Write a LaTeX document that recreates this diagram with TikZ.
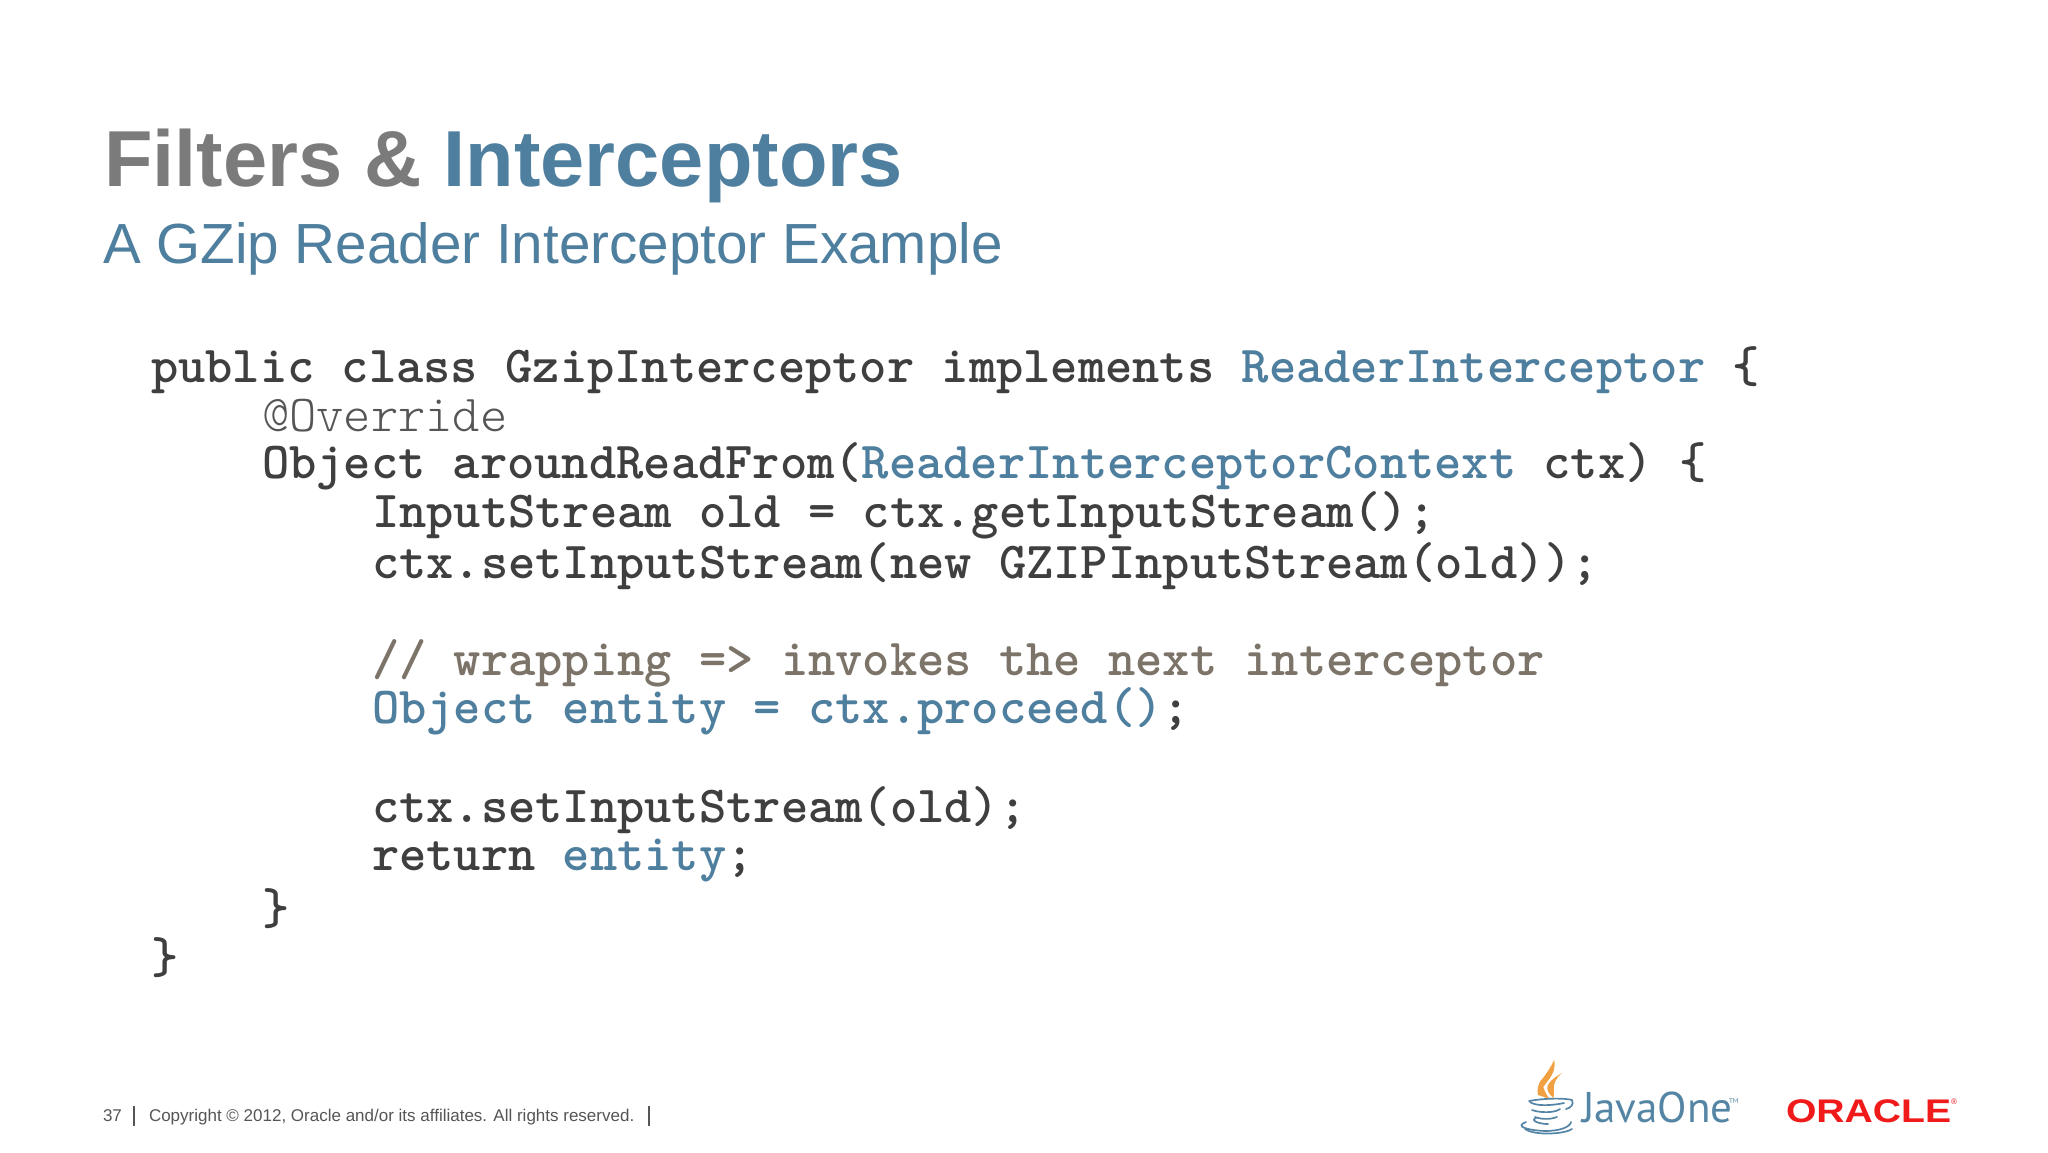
\documentclass[tikz,border=0pt]{standalone}
\usepackage{fontspec}
\setmainfont{Liberation Sans}
\newfontfamily\cbf{Latin Modern Mono Light}
\newfontfamily\jfont{PT Sans}
\definecolor{bluet}{HTML}{4F7F9F}
\definecolor{grayt}{HTML}{7B7B7B}
\definecolor{codec}{HTML}{3F3F3F}
\definecolor{commc}{HTML}{7C7468}
\definecolor{footc}{HTML}{555555}
\definecolor{orcl}{HTML}{F01A1A}
\definecolor{javab}{HTML}{5585A5}
\definecolor{flame}{HTML}{F0A040}
\newcommand{\bl}[1]{\textcolor{bluet}{#1}}
\tikzset{
  x=0.5pt,y=-0.5pt,
  txt/.style={anchor=base west,inner sep=0pt,outer sep=0pt},
  code/.style={txt,font=\cbf\bfseries\fontsize{25.97}{28}\selectfont,text=codec},
  foot/.style={txt,font=\fontsize{8.5}{10}\selectfont,text=footc},
  sep/.style={draw=footc,line width=0.6pt},
  cup/.style={draw=javab,line width=0.85pt,line cap=round},
  flm/.style={fill=flame,draw=none}
}
\begin{document}
\begin{tikzpicture}
\useasboundingbox (0,0) rectangle (2048,1152);
\fill[white] (0,0) rectangle (2048,1152);
\node[txt,font=\bfseries\fontsize{39.7}{44}\selectfont,text=grayt] (title) at (104,186) {Filters \& \bl{Interceptors}};
\node[txt,font=\fontsize{28.3}{32}\selectfont,text=bluet] (sub) at (103,263) {A GZip Reader Interceptor Example};

\node[code] (l1) at (151,382) {public class GzipInterceptor implements \bl{ReaderInterceptor} \{};
\node[code,font=\cbf\fontsize{25.97}{28}\selectfont,text=footc] (l2) at (262,431) {@Override};
\node[code] (l3) at (262,478) {Object aroundReadFrom(\bl{ReaderInterceptorContext} ctx) \{};
\node[code] (l4) at (372,527) {InputStream old = ctx.getInputStream();};
\node[code] (l5) at (372,578) {ctx.setInputStream(new GZIPInputStream(old));};
\node[code,text=commc] (l6) at (372,675) {// wrapping => invokes the next interceptor};
\node[code] (l7) at (372,723) {\bl{Object entity = ctx.proceed()};};
\node[code] (l8) at (372,822) {ctx.setInputStream(old);};
\node[code] (l9) at (372,870) {return \bl{entity};};
\node[code] (l10) at (262,924) {\}};
\node[code] (l11) at (151,973) {\}};

\node[foot] (pg) at (103,1121) {37};
\draw[sep] (134,1106) -- (134,1126);
\node[foot] (copy) at (149,1121) {Copyright © 2012, Oracle and/or its affiliates. All rights reserved.};
\draw[sep] (649,1106) -- (649,1126);

% Java cup logo
\fill[flm] (1554,1060) .. controls (1558,1075) and (1542,1085) .. (1538,1095) .. controls (1535,1083) and (1548,1075) .. (1554,1060) -- cycle;
\fill[flm] (1538,1095) .. controls (1537,1086) and (1539,1082) .. (1543,1078) .. controls (1541,1086) and (1545,1092) .. (1550,1100) .. controls (1546,1097) and (1541,1096) .. (1538,1095) -- cycle;
\fill[flm] (1562,1073) .. controls (1550,1080) and (1544,1086) .. (1549,1093) .. controls (1553,1099) and (1552,1094) .. (1553,1099) .. controls (1556,1092) and (1549,1084) .. (1562,1073) -- cycle;
\draw[cup] (1529,1101) .. controls (1545,1098) and (1565,1098) .. (1572,1100);
\draw[cup] (1572,1100) .. controls (1574,1104) and (1571,1108) .. (1566,1109);
\draw[cup] (1530,1102) .. controls (1535,1106) and (1550,1106) .. (1564,1103);
\draw[cup] (1532,1110) .. controls (1540,1113) and (1555,1113) .. (1560,1109);
\draw[cup] (1535,1117) .. controls (1543,1120) and (1552,1119) .. (1557,1117);
\draw[cup] (1536,1118) .. controls (1530,1120) and (1538,1124) .. (1548,1124);
\draw[cup] (1526,1122) .. controls (1515,1126) and (1525,1130) .. (1545,1131) .. controls (1560,1131) and (1570,1127) .. (1571,1122);
\draw[cup] (1525,1129) .. controls (1535,1136) and (1565,1134) .. (1572,1129);

\node[txt,font=\jfont\fontsize{21.5}{24}\selectfont,text=javab] (java) at (1582,1122) {JavaOne};
\node[txt,font=\jfont\fontsize{3.5}{4}\selectfont,text=javab] (tm) at (1729,1103) {TM};
\node[txt,font=\bfseries\fontsize{14.6}{16}\selectfont,text=orcl,xscale=1.34,yscale=1.12] (oracle) at (1786,1122) {ORACLE};
\node[txt,font=\fontsize{4}{5}\selectfont,text=orcl] (reg) at (1951,1104) {®};
\end{tikzpicture}
\end{document}
